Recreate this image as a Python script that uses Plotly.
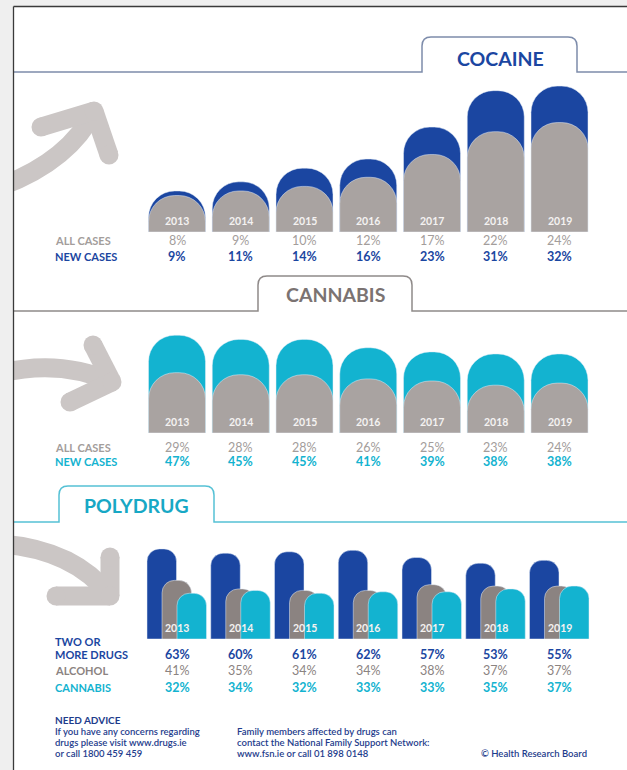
import plotly.graph_objects as go

W, H = 627, 770

# ---------------- data ----------------
years = [2013, 2014, 2015, 2016, 2017, 2018, 2019]
year_labels = ["2013", "2014", "2015", "2016", "2017", "2018", "2019"]

cocaine_all = [8, 9, 10, 12, 17, 22, 24]
cocaine_new = [9, 11, 14, 16, 23, 31, 32]

cannabis_all = [29, 28, 28, 26, 25, 23, 24]
cannabis_new = [47, 45, 45, 41, 39, 38, 38]

poly_two_or_more = [63, 60, 61, 62, 57, 53, 55]
poly_alcohol = [41, 35, 34, 34, 38, 37, 37]
poly_cannabis = [32, 34, 32, 33, 33, 35, 37]

# ---------------- style ----------------
FONT = "Lato"
BLUE = "#1b46a1"
GRAY_BAR = "#a9a3a1"
GRAY_TXT = "#a39d9b"
TEAL = "#13b3d0"
ALC_GRAY = "#8b8381"
CAN_TITLE = "#7b7372"
ARROW = "#cbc6c5"
NAVY = "#1e3c8c"


def fx(x):
    return x / W


def fy(y):
    return 1 - y / H


def P(x, y):
    return f"{fx(x):.5f},{fy(y):.5f}"


# x mapping shared by the three sections (years -> pixels)
CENTER0 = 177.0
STEP = 63.75
x0 = years[0] - CENTER0 / STEP
x1 = x0 + W / STEP
xrange_ = [x0, x1]

fig = go.Figure()

BW = 57 / STEP

# ---------------- cocaine ----------------
COC_BOTTOM, COC_TOP, COC_SCALE = 232, 72, 4.56
fig.add_trace(go.Bar(x=years, y=cocaine_new, width=BW, marker=dict(color=BLUE, cornerradius="46%"),
                     xaxis="x", yaxis="y", hoverinfo="skip"))
fig.add_trace(go.Bar(x=years, y=cocaine_all, width=BW, marker=dict(color=GRAY_BAR, cornerradius="46%"),
                     xaxis="x4", yaxis="y4", hoverinfo="skip"))

# ---------------- cannabis ----------------
CAN_BOTTOM, CAN_TOP, CAN_SCALE = 433, 311, 2.08
fig.add_trace(go.Bar(x=years, y=cannabis_new, width=BW, marker=dict(color=TEAL, cornerradius="46%"),
                     xaxis="x2", yaxis="y2", hoverinfo="skip"))
fig.add_trace(go.Bar(x=years, y=cannabis_all, width=BW, marker=dict(color=GRAY_BAR, cornerradius="46%"),
                     xaxis="x5", yaxis="y5", hoverinfo="skip"))

# ---------------- polydrug ----------------
POL_BOTTOM, POL_TOP, POL_SCALE = 639, 522, 1.43
bw = 29.5 / STEP
fig.add_trace(go.Bar(x=years, y=poly_two_or_more, width=bw, offset=-30 / STEP,
                     marker=dict(color=BLUE, cornerradius="42%"), xaxis="x3", yaxis="y3", hoverinfo="skip"))
fig.add_trace(go.Bar(x=years, y=poly_alcohol, width=bw, offset=-15 / STEP,
                     marker=dict(color=ALC_GRAY, cornerradius="42%"), xaxis="x3", yaxis="y3", hoverinfo="skip"))
fig.add_trace(go.Bar(x=years, y=poly_cannabis, width=bw, offset=0,
                     marker=dict(color=TEAL, cornerradius="42%"), xaxis="x3", yaxis="y3", hoverinfo="skip"))

ax_common = dict(visible=False, fixedrange=True)
coc_dom = [fy(COC_BOTTOM), fy(COC_TOP)]
coc_rng = [0, (COC_BOTTOM - COC_TOP) / COC_SCALE]
can_dom = [fy(CAN_BOTTOM), fy(CAN_TOP)]
can_rng = [0, (CAN_BOTTOM - CAN_TOP) / CAN_SCALE]
pol_dom = [fy(POL_BOTTOM), fy(POL_TOP)]
pol_rng = [0, (POL_BOTTOM - POL_TOP) / POL_SCALE]
fig.update_layout(
    xaxis=dict(domain=[0, 1], range=xrange_, anchor="y", **ax_common),
    yaxis=dict(domain=coc_dom, range=coc_rng, anchor="x", **ax_common),
    xaxis2=dict(domain=[0, 1], range=xrange_, anchor="y2", **ax_common),
    yaxis2=dict(domain=can_dom, range=can_rng, anchor="x2", **ax_common),
    xaxis3=dict(domain=[0, 1], range=xrange_, anchor="y3", **ax_common),
    yaxis3=dict(domain=pol_dom, range=pol_rng, anchor="x3", **ax_common),
    xaxis4=dict(domain=[0, 1], range=xrange_, anchor="y4", **ax_common),
    yaxis4=dict(domain=coc_dom, range=coc_rng, anchor="x4", **ax_common),
    xaxis5=dict(domain=[0, 1], range=xrange_, anchor="y5", **ax_common),
    yaxis5=dict(domain=can_dom, range=can_rng, anchor="x5", **ax_common),
)

# ---------------- annotations ----------------
anns = []


def ann(text, x, y, size, color, weight="normal", xref="paper", xanchor="center"):
    anns.append(dict(text=text, x=x if xref != "paper" else fx(x), y=fy(y), xref=xref, yref="paper",
                     xanchor=xanchor, yanchor="middle", showarrow=False, borderpad=0,
                     font=dict(family=FONT, size=size, color=color, weight=weight)))


# titles
ann("COCAINE", 500, 58, 19.5, BLUE, "bold")
ann("CANNABIS", 335, 294, 19.5, CAN_TITLE, "bold")
ann("POLYDRUG", 136, 505, 19.5, "#17a8c5", "bold")

# year labels inside bars
for yr, lab in zip(years, year_labels):
    ann(lab, yr, 221, 10.5, "#f4f2f1", "bold", xref="x")
    ann(lab, yr, 422, 10.5, "#f4f2f1", "bold", xref="x2")
    ann(lab, yr, 628, 10.5, "#f4f2f1", "bold", xref="x3")

# cocaine rows
ann("ALL CASES", 54, 241, 11, GRAY_TXT, "bold", xanchor="left")
ann("NEW CASES", 54, 256, 11, BLUE, "bold", xanchor="left")
for yr, a, n in zip(years, cocaine_all, cocaine_new):
    ann(f"{a}%", yr, 241, 12.5, GRAY_TXT, "normal", xref="x")
    ann(f"{n}%", yr, 256, 12.5, BLUE, "bold", xref="x")

# cannabis rows
ann("ALL CASES", 54, 447, 11, GRAY_TXT, "bold", xanchor="left")
ann("NEW CASES", 54, 461, 11, TEAL, "bold", xanchor="left")
for yr, a, n in zip(years, cannabis_all, cannabis_new):
    ann(f"{a}%", yr, 447, 12.5, GRAY_TXT, "normal", xref="x2")
    ann(f"{n}%", yr, 461, 12.5, TEAL, "bold", xref="x2")

# polydrug rows
ann("TWO OR", 54, 641, 11, BLUE, "bold", xanchor="left")
ann("MORE DRUGS", 54, 654, 11, BLUE, "bold", xanchor="left")
ann("ALCOHOL", 54, 670, 11, ALC_GRAY, "bold", xanchor="left")
ann("CANNABIS", 54, 687, 11, TEAL, "bold", xanchor="left")
for yr, a, b, c in zip(years, poly_two_or_more, poly_alcohol, poly_cannabis):
    ann(f"{a}%", yr, 654, 12.5, BLUE, "bold", xref="x3")
    ann(f"{b}%", yr, 670, 12.5, ALC_GRAY, "normal", xref="x3")
    ann(f"{c}%", yr, 687, 12.5, TEAL, "bold", xref="x3")

# footer
ann("NEED ADVICE", 54, 719.5, 10, NAVY, "bold", xanchor="left")
foot1 = ["If you have any concerns regarding", "drugs please visit www.drugs.ie", "or call 1800 459 459"]
foot2 = ["Family members affected by drugs can", "contact the National Family Support Network:",
         "www.fsn.ie or call 01 898 0148"]
for i, (a, b) in enumerate(zip(foot1, foot2)):
    ann(a, 54, 731.5 + i * 11, 9.5, NAVY, 600, xanchor="left")
    ann(b, 236, 731.5 + i * 11, 9.5, NAVY, 600, xanchor="left")
ann("© Health Research Board", 588, 753.5, 9.5, NAVY, 600, xanchor="right")

fig.update_layout(annotations=anns)

# ---------------- decorative shapes ----------------
shapes = []


def tab_path(y_line, xl, xr, y_top, r=9):
    return (f"M {P(0, y_line)} L {P(xl, y_line)} L {P(xl, y_top + r)} "
            f"Q {P(xl, y_top)} {P(xl + r, y_top)} L {P(xr - r, y_top)} "
            f"Q {P(xr, y_top)} {P(xr, y_top + r)} L {P(xr, y_line)} L {P(W, y_line)}")


shapes.append(dict(type="path", xref="paper", yref="paper", path=tab_path(72, 422, 577, 37),
                   line=dict(color="#7d8cab", width=1.5), layer="below"))
shapes.append(dict(type="path", xref="paper", yref="paper", path=tab_path(311, 258, 412, 276),
                   line=dict(color="#8f8a89", width=1.5), layer="below"))
shapes.append(dict(type="path", xref="paper", yref="paper", path=tab_path(522, 59, 214, 486),
                   line=dict(color="#55c1d5", width=1.5), layer="below"))

LW = 19


def stroke(path):
    shapes.append(dict(type="path", xref="paper", yref="paper", path=path,
                       line=dict(color=ARROW, width=LW), layer="below"))


def dot(cx, cy, r=LW / 2):
    shapes.append(dict(type="circle", xref="paper", yref="paper",
                       x0=fx(cx - r), x1=fx(cx + r), y0=fy(cy + r), y1=fy(cy - r),
                       fillcolor=ARROW, line=dict(width=0), layer="below"))


# cocaine arrow (up-right)
stroke(f"M {P(2, 186)} Q {P(70, 160)} {P(94, 111)}")
stroke(f"M {P(41, 127)} L {P(94, 111)}")
stroke(f"M {P(94, 111)} L {P(109, 155)}")
for c in [(41, 127), (94, 111), (109, 155)]:
    dot(*c)

# cannabis arrow (right)
stroke(f"M {P(2, 373)} Q {P(60, 359)} {P(112, 382)}")
stroke(f"M {P(93, 345)} L {P(112, 382)}")
stroke(f"M {P(112, 382)} L {P(70, 402)}")
for c in [(93, 345), (112, 382), (70, 402)]:
    dot(*c)

# polydrug arrow (down-right)
stroke(f"M {P(2, 544)} Q {P(75, 550)} {P(110, 596)}")
stroke(f"M {P(110, 557)} L {P(110, 596)}")
stroke(f"M {P(110, 596)} L {P(56, 596)}")
for c in [(110, 557), (110, 596), (56, 596)]:
    dot(*c)

# page margin and panel border (drawn on top)
shapes.append(dict(type="rect", xref="paper", yref="paper", x0=0, x1=fx(13), y0=0, y1=1,
                   fillcolor="#efefef", line=dict(width=0), layer="above"))
shapes.append(dict(type="rect", xref="paper", yref="paper", x0=0, x1=1, y0=fy(6), y1=1,
                   fillcolor="#efefef", line=dict(width=0), layer="above"))
shapes.append(dict(type="line", xref="paper", yref="paper", x0=fx(13.5), x1=fx(13.5), y0=0, y1=fy(6.5),
                   line=dict(color="#3a3a3a", width=1.3), layer="above"))
shapes.append(dict(type="line", xref="paper", yref="paper", x0=fx(13.5), x1=1, y0=fy(6.5), y1=fy(6.5),
                   line=dict(color="#3a3a3a", width=1.3), layer="above"))

fig.update_layout(
    shapes=shapes,
    barmode="overlay",
    showlegend=False,
    width=W, height=H,
    autosize=False,
    margin=dict(l=0, r=0, t=0, b=0, pad=0),
    paper_bgcolor="white",
    plot_bgcolor="rgba(0,0,0,0)",
    font=dict(family=FONT),
)

fig.write_html("out.html", config=dict(displayModeBar=False, staticPlot=True),
               post_script="document.body.style.margin='0';document.body.style.padding='0';"
                           "document.body.style.overflow='hidden';")
